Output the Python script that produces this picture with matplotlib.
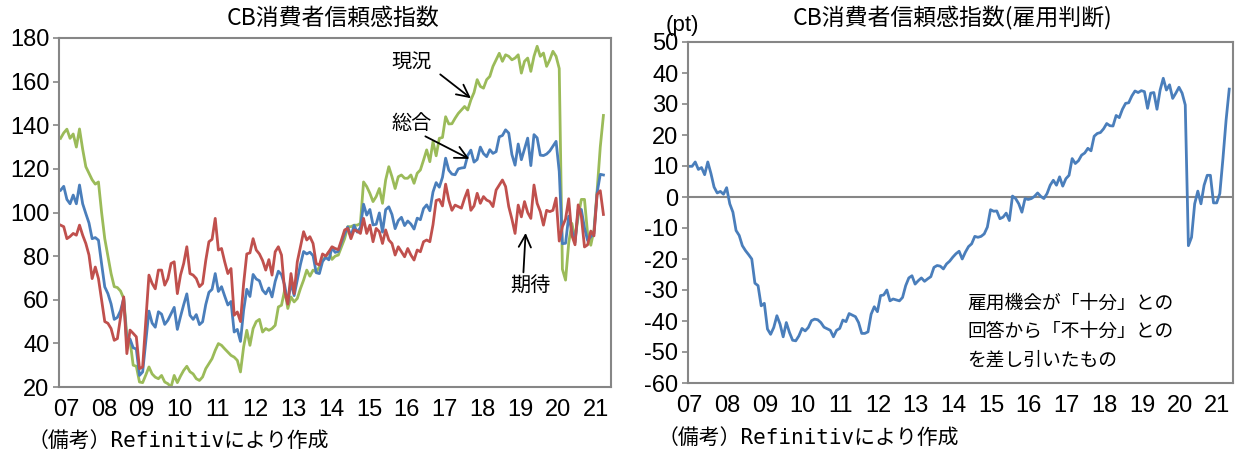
import matplotlib
matplotlib.use('Agg')
import matplotlib.pyplot as plt
import numpy as np

plt.rcParams['axes.unicode_minus'] = False

years = ['07', '08', '09', '10', '11', '12', '13', '14', '15', '16', '17', '18', '19', '20', '21']

# CB consumer confidence, monthly Jan 2007 - May 2021
total = [
    110.2, 112.0, 106.0, 104.0, 108.0, 104.0, 112.6, 104.0, 99.5, 95.2, 88.0, 88.5,
    87.3, 76.4, 65.9, 62.8, 58.1, 51.0, 51.9, 55.0, 60.6, 40.0, 42.0, 38.0,
    37.4, 25.3, 26.9, 40.8, 54.8, 49.3, 47.4, 54.5, 53.4, 48.7, 50.6, 53.6,
    56.5, 46.4, 52.3, 57.7, 62.7, 52.9, 51.0, 53.2, 48.6, 49.9, 57.8, 63.4,
    64.8, 72.0, 63.8, 66.0, 61.7, 57.6, 59.2, 45.2, 46.4, 40.9, 55.2, 64.8,
    61.5, 71.6, 69.5, 68.7, 64.4, 62.7, 65.4, 61.3, 68.4, 73.1, 71.5, 66.7,
    58.4, 68.0, 61.9, 69.0, 76.2, 82.1, 81.0, 81.8, 80.2, 72.4, 72.0, 77.5,
    79.4, 78.3, 83.9, 81.7, 82.2, 86.4, 90.3, 93.4, 89.0, 94.1, 91.0, 93.1,
    103.8, 98.8, 101.4, 94.3, 94.6, 99.8, 91.0, 101.3, 102.6, 99.1, 92.6, 96.3,
    97.8, 94.0, 96.1, 94.7, 92.4, 97.4, 96.7, 101.8, 103.5, 100.8, 109.4, 113.7,
    111.6, 116.1, 124.9, 119.4, 117.6, 117.3, 120.0, 120.4, 120.6, 126.2, 128.6, 123.1,
    124.3, 130.0, 127.0, 125.6, 128.8, 127.1, 127.9, 134.7, 135.3, 137.9, 136.4, 126.6,
    121.7, 131.4, 124.2, 129.2, 134.1, 121.5, 135.7, 134.2, 126.3, 126.1, 126.8, 128.2,
    130.4, 132.6, 118.8, 85.7, 85.9, 98.3, 91.7, 86.3, 101.3, 101.4, 92.9, 87.1,
    88.9, 90.4, 109.0, 117.5, 117.2,
]

present = [
    134.0, 136.5, 138.2, 134.0, 136.0, 130.0, 138.3, 129.0, 121.0, 118.0, 115.0, 113.0,
    114.0, 100.0, 88.0, 80.0, 72.0, 66.0, 65.6, 64.0, 60.6, 43.7, 41.4, 30.0,
    29.5, 22.3, 22.0, 25.5, 29.2, 26.0, 24.5, 23.8, 25.3, 22.3, 21.5, 20.0,
    25.3, 22.0, 25.0, 27.6, 29.5, 27.0, 26.0, 23.8, 23.0, 24.6, 28.4, 30.7,
    33.0, 36.8, 39.9, 39.1, 37.5, 36.0, 34.5, 33.7, 32.2, 26.9, 38.4, 46.0,
    39.1, 46.8, 50.0, 51.0, 45.2, 46.8, 46.0, 46.8, 48.3, 56.7, 57.5, 64.4,
    56.0, 61.3, 59.0, 60.6, 65.1, 69.0, 73.6, 70.8, 73.6, 72.8, 75.0, 78.0,
    79.7, 82.0, 78.5, 80.0, 80.5, 84.3, 88.0, 93.5, 93.5, 94.2, 94.2, 95.0,
    114.0, 111.9, 108.8, 105.0, 107.3, 111.0, 104.2, 114.9, 121.0, 116.4, 111.0, 116.4,
    117.2, 115.7, 115.7, 117.2, 113.4, 118.0, 119.5, 124.0, 128.7, 123.3, 132.5, 126.0,
    134.0, 134.4, 143.9, 140.6, 140.7, 143.2, 145.4, 147.0, 148.6, 147.0, 151.6, 155.0,
    160.9, 157.8, 157.0, 160.9, 162.4, 167.0, 170.0, 173.0, 169.3, 172.3, 171.6, 170.0,
    170.8, 172.3, 163.9, 169.3, 170.8, 164.7, 171.6, 176.2, 171.6, 173.1, 167.0, 170.0,
    173.9, 171.6, 166.0, 74.0, 69.0, 86.0, 95.0, 88.0, 98.0, 106.0, 106.0, 90.0,
    85.0, 92.0, 110.0, 130.0, 144.5,
]

expect = [
    94.2, 93.5, 88.0, 89.0, 90.4, 89.6, 94.2, 89.6, 85.8, 80.5, 69.7, 75.0,
    69.7, 60.0, 50.0, 49.2, 46.8, 41.4, 42.2, 52.0, 61.3, 35.3, 46.1, 44.6,
    43.0, 28.4, 29.2, 50.0, 71.3, 67.5, 65.0, 73.6, 73.6, 66.7, 69.7, 76.6,
    77.4, 62.8, 71.3, 76.6, 84.3, 72.0, 71.3, 69.7, 66.0, 67.4, 78.0, 86.6,
    87.7, 97.3, 82.8, 83.5, 77.4, 72.0, 74.3, 52.9, 54.4, 50.0, 67.4, 81.0,
    81.5, 88.0, 82.8, 81.0, 78.0, 73.6, 78.4, 71.3, 82.0, 84.3, 80.5, 64.0,
    58.0, 72.0, 62.8, 77.4, 84.3, 91.2, 87.4, 88.9, 85.8, 76.6, 75.9, 81.0,
    80.0, 82.0, 84.3, 83.5, 83.0, 87.4, 92.0, 92.7, 88.0, 92.0, 91.5, 90.4,
    97.3, 90.4, 94.2, 86.6, 92.7, 91.2, 85.8, 92.0, 87.4, 85.8, 80.5, 84.3,
    82.0, 79.7, 83.5, 80.5, 78.2, 82.8, 82.0, 86.6, 87.4, 86.6, 94.4, 105.5,
    106.0, 103.0, 113.0, 105.7, 101.0, 103.4, 102.7, 102.0, 106.5, 110.3, 101.0, 103.0,
    108.8, 104.2, 107.3, 105.7, 105.0, 102.7, 110.3, 112.6, 114.9, 111.9, 102.7, 97.0,
    90.4, 103.4, 98.0, 105.0, 100.0, 97.3, 112.6, 104.2, 100.4, 94.2, 101.0, 100.4,
    101.0, 106.6, 86.9, 93.5, 97.0, 106.3, 89.5, 85.2, 103.5, 98.3, 84.2, 85.2,
    91.5, 89.3, 108.3, 110.0, 99.1,
]

# Labor differential: jobs "plentiful" minus "hard to get"
labor = [
    9.9, 9.9, 11.3, 8.9, 9.5, 7.2, 11.3, 7.6, 3.2, 1.3, 1.8, 0.9,
    3.0, -2.2, -4.9, -10.8, -12.4, -15.7, -17.3, -18.6, -20.0, -27.8, -28.6, -35.1,
    -34.3, -42.6, -44.3, -42.1, -38.3, -41.0, -45.1, -40.5, -43.7, -46.2, -46.4, -44.8,
    -42.4, -43.2, -42.1, -39.9, -39.4, -39.6, -40.5, -42.0, -42.5, -43.0, -45.1, -43.0,
    -42.4, -39.7, -40.2, -37.6, -38.1, -38.6, -40.5, -44.0, -44.0, -43.5, -37.8, -35.4,
    -37.0, -31.8, -31.6, -30.0, -33.5, -32.9, -33.2, -33.5, -32.4, -28.6, -26.1, -25.4,
    -28.1, -27.0, -26.1, -27.2, -26.4, -25.7, -22.7, -22.1, -22.3, -23.2, -21.6, -20.7,
    -19.4, -18.3, -17.5, -20.0, -17.8, -16.0, -15.1, -12.7, -13.0, -12.7, -11.9, -9.7,
    -4.1, -4.6, -4.5, -7.0, -6.5, -5.2, -7.6, 0.3, -0.5, -2.2, -4.9, -0.5,
    -0.8, -0.5, 0.2, 1.3, 0.2, -0.5, 1.1, 3.8, 5.4, 3.8, 6.5, 3.5,
    5.9, 7.0, 12.4, 10.8, 11.7, 13.5, 14.2, 15.7, 14.9, 19.6, 20.5, 20.8,
    22.0, 23.7, 23.0, 22.9, 26.3, 25.6, 28.3, 30.2, 30.4, 32.6, 34.2, 33.7,
    34.3, 34.0, 28.6, 33.5, 33.7, 28.3, 34.5, 38.3, 34.5, 36.2, 31.8, 33.5,
    35.4, 33.5, 29.7, -15.7, -13.0, -2.2, 1.9, -2.2, 3.8, 7.0, 7.0, -1.9,
    -1.9, 1.1, 12.4, 24.8, 34.8,
]

W, H = 1247, 468
fig = plt.figure(figsize=(W / 100, H / 100), dpi=100)

num_font = ['Liberation Sans', 'DejaVu Sans']
jp = ['Noto Sans CJK JP', 'DejaVu Sans']
mono = ['DejaVu Sans Mono', 'Noto Sans CJK JP']

GREEN = '#9BBB59'
BLUE = '#4A7EBB'
RED = '#C0504D'
SPINE = '#868686'


def px_axes(l, t, r, b):
    return [l / W, 1 - b / H, (r - l) / W, (b - t) / H]


def style_axes(ax):
    for s in ax.spines.values():
        s.set_color(SPINE)
        s.set_linewidth(1.5)
    ax.tick_params(axis='y', length=4, width=1.2, color=SPINE, pad=3)
    ax.tick_params(axis='x', length=0, pad=9)
    for lab in ax.get_xticklabels() + ax.get_yticklabels():
        lab.set_fontfamily(num_font)
        lab.set_fontsize(17)


# ---------- Left chart ----------
ax1 = fig.add_axes(px_axes(59, 38, 611, 387))
x = np.arange(len(total))
ax1.plot(x, present, color=GREEN, lw=2.0)
ax1.plot(x, total, color=BLUE, lw=2.0)
ax1.plot(x, expect, color=RED, lw=2.0)
ax1.set_ylim(20, 180)
ax1.set_yticks(np.arange(20, 181, 20))
ax1.set_xlim(-0.5, 174.4)
ax1.set_xticks(np.arange(len(years)) * 12 + 1.7)
ax1.set_xticklabels(years)
style_axes(ax1)

arrow = dict(arrowstyle='->', color='black', lw=1.3, mutation_scale=22)
ax1.text(111.3, 168.5, '現況', ha='center', va='center', fontsize=14.5, family=jp)
ax1.annotate('', xy=(130.7, 151.6), xytext=(119.6, 164.1), arrowprops=arrow)
ax1.text(111.2, 141.0, '総合', ha='center', va='center', fontsize=14.5, family=jp)
ax1.annotate('', xy=(130.3, 124.0), xytext=(114.8, 135.5), arrowprops=arrow)
ax1.text(148.7, 66.0, '期待', ha='center', va='center', fontsize=14.5, family=jp)
ax1.annotate('', xy=(147.4, 91.9), xytext=(146.6, 71.3), arrowprops=arrow)

fig.text(333 / W, 1 - 18 / H, 'CB消費者信頼感指数', ha='center', va='center',
         fontsize=16.5, family=jp)
fig.text(28 / W, 1 - 441 / H, '（備考）Refinitivにより作成', ha='left', va='center',
         fontsize=15, family=mono)

# ---------- Right chart ----------
ax2 = fig.add_axes(px_axes(688, 42, 1233, 383))
ax2.axhline(0, color=SPINE, lw=1.5)
ax2.plot(np.arange(len(labor)), labor, color=BLUE, lw=2.0)
ax2.set_ylim(-60, 50)
ax2.set_yticks(np.arange(-60, 51, 10))
ax2.set_xlim(-0.3, 173.2)
ax2.set_xticks(np.arange(len(years)) * 12 + 0.2)
ax2.set_xticklabels(years)
style_axes(ax2)

fig.text(952 / W, 1 - 18 / H, 'CB消費者信頼感指数(雇用判断)', ha='center', va='center',
         fontsize=16.5, family=jp)
fig.text(682 / W, 1 - 26 / H, '(pt)', ha='center', va='center', fontsize=16,
         family=num_font)
note_lines = ['雇用機会が「十分」との', '回答から「不十分」との', 'を差し引いたもの']
for k, line in enumerate(note_lines):
    fig.text(967 / W, 1 - (303 + 28.5 * k) / H, line, ha='left', va='center',
             fontsize=13.5, family=jp)
fig.text(658 / W, 1 - 438 / H, '（備考）Refinitivにより作成', ha='left', va='center',
         fontsize=15, family=mono)

fig.savefig('out.png', dpi=100)
